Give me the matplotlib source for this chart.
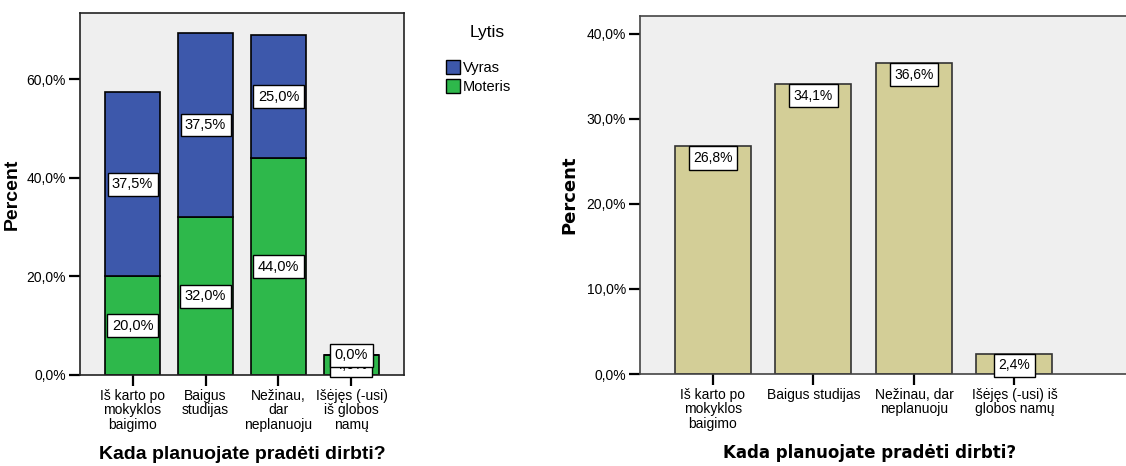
import numpy as np
import matplotlib.pyplot as plt
from matplotlib.patches import Patch

# colours
BLUE = '#3d58ab'
GREEN = '#2eb84b'
TAN = '#d3ce97'
BG = '#efefef'

plt.rcParams['font.family'] = ['Liberation Sans', 'DejaVu Sans']

# data - left (stacked by gender)
cats_left = ['Iš karto po\nmokyklos\nbaigimo', 'Baigus\nstudijas',
             'Nežinau,\ndar\nneplanuoju', 'Išėjęs (-usi)\niš globos\nnamų']
moteris = [20.0, 32.0, 44.0, 4.0]
vyras = [37.5, 37.5, 25.0, 0.0]

# data - right (total)
cats_right = ['Iš karto po\nmokyklos\nbaigimo', 'Baigus studijas',
              'Nežinau, dar\nneplanuoju', 'Išėjęs (-usi) iš\nglobos namų']
total = [26.8, 34.1, 36.6, 2.4]

W, H = 1126, 466
fig = plt.figure(figsize=(W / 100, H / 100), dpi=100, facecolor='white')

def px_axes(x0, y0, x1, y1):
    return fig.add_axes([x0 / W, 1 - y1 / H, (x1 - x0) / W, (y1 - y0) / H])

def fmt(v):
    return f'{v:.1f}%'.replace('.', ',')

box = dict(boxstyle='square,pad=0.3', fc='white', ec='black', lw=1)

# ---------- left chart ----------
ax1 = px_axes(80, 13, 404, 375)
ax1.set_facecolor(BG)
x = np.arange(len(cats_left))
ax1.bar(x, moteris, width=0.75, color=GREEN, edgecolor='black', linewidth=1.2, zorder=2)
ax1.bar(x, vyras, width=0.75, bottom=moteris, color=BLUE, edgecolor='black', linewidth=1.2, zorder=2)
for i in range(len(x)):
    ax1.text(x[i], moteris[i] / 2, fmt(moteris[i]), ha='center', va='center',
             fontsize=10.5, bbox=box, zorder=3)
    ax1.text(x[i], moteris[i] + vyras[i] / 2, fmt(vyras[i]), ha='center', va='center',
             fontsize=10.5, bbox=box, zorder=4)
ax1.set_xlim(-0.72, 3.72)
ax1.set_ylim(0, 73.5)
ax1.set_yticks([0, 20, 40, 60])
ax1.set_yticklabels([fmt(v) for v in [0, 20, 40, 60]], fontsize=10)
ax1.set_xticks(x)
ax1.set_xticklabels(cats_left, fontsize=10, linespacing=1.05)
ax1.tick_params(direction='out', length=8, width=1.6, pad=2)
for s in ax1.spines.values():
    s.set_color('#222222')
    s.set_linewidth(1.2)
ax1.set_ylabel('Percent', fontsize=14, fontweight='bold', labelpad=4)
ax1.set_xlabel('Kada planuojate pradėti dirbti?', fontsize=14, fontweight='bold', labelpad=10)

# legend: title placed separately so the gap matches
fig.text(487 / W, 1 - 33 / H, 'Lytis', ha='center', va='center', fontsize=12.5)
handles = [Patch(facecolor=BLUE, edgecolor='black', label='Vyras'),
           Patch(facecolor=GREEN, edgecolor='black', label='Moteris')]
fig.legend(handles=handles, loc='upper left', bbox_to_anchor=(433 / W, 1 - 47 / H),
           frameon=False, fontsize=10.5,
           handlelength=0.95, handleheight=1.05, handletextpad=0.2, labelspacing=0.3)

# ---------- right chart ----------
ax2 = px_axes(640, 16, 1126, 374)
ax2.set_facecolor(BG)
x2 = np.arange(len(cats_right))
ax2.bar(x2, total, width=0.756, color=TAN, edgecolor='#333333', linewidth=1.2, zorder=2)
for i in range(len(x2)):
    ax2.annotate(fmt(total[i]), xy=(x2[i], total[i]), xytext=(0, -3.5),
                 textcoords='offset points', ha='center', va='top',
                 fontsize=10, bbox=dict(boxstyle='square,pad=0.33', fc='white', ec='black', lw=1),
                 zorder=3)
ax2.set_xlim(-0.726, 4.11)
ax2.set_ylim(0, 42.1)
ax2.set_yticks([0, 10, 20, 30, 40])
ax2.set_yticklabels([fmt(v) for v in [0, 10, 20, 30, 40]], fontsize=10)
ax2.set_xticks(x2)
ax2.set_xticklabels(cats_right, fontsize=10, linespacing=1.05)
ax2.tick_params(direction='out', length=8, width=1.6, pad=2)
for s in ax2.spines.values():
    s.set_color('#444444')
    s.set_linewidth(1.2)
ax2.spines['right'].set_visible(False)
ax2.set_ylabel('Percent', fontsize=13, fontweight='bold', labelpad=6, family='DejaVu Sans')
ax2.set_xlabel('Kada planuojate pradėti dirbti?', fontsize=12, fontweight='bold',
               family='DejaVu Sans')
ax2.xaxis.set_label_coords(0.473, -0.195)

fig.savefig('out.png', dpi=100, facecolor='white')
